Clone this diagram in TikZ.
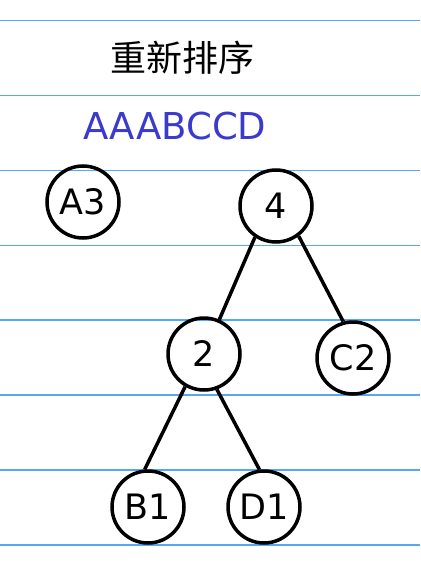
\documentclass[tikz,border=0pt]{standalone}
\usepackage{fontspec}
\setmainfont{DejaVu Sans}
\newfontfamily\cjk{Noto Sans CJK SC}
\definecolor{rule}{HTML}{55A8F8}
\definecolor{seq}{HTML}{3A3ACC}
\begin{document}
\begin{tikzpicture}[x=1pt,y=-1pt,
  ruleline/.style={draw=rule,line width=1.8pt},
  tnode/.style={circle,draw=black,line width=3.5pt,minimum size=72pt,inner sep=0pt,font=\fontsize{35}{35}\selectfont},
  edge/.style={draw=black,line width=3.5pt}]
\useasboundingbox (0,0) rectangle (420,585);
\foreach \y in {20.5,95.5,170.5,245.5,320,395,470,545}
  \draw[ruleline] (0,\y) -- (420,\y);
\node (title) at (182,58) {\cjk\fontsize{36}{36}\selectfont 重新排序};
\node[text=seq,font=\fontsize{37}{37}\selectfont] (seqtext) at (175,126) {AAABCCD};
\node[tnode] (a3) at (83,202) {A3};
\node[tnode] (n4) at (276,206) {4};
\node[tnode] (n2) at (204,354) {2};
\node[tnode] (c2) at (353,358) {C2};
\node[tnode] (b1) at (148,507) {B1};
\node[tnode] (d1) at (264,507) {D1};
\draw[edge] (n4.236) -- (n2.66);
\draw[edge] (n4.307) -- (c2.105);
\draw[edge] (n2.240) -- (b1.95);
\draw[edge] (n2.290) -- (d1.97);
\end{tikzpicture}
\end{document}
